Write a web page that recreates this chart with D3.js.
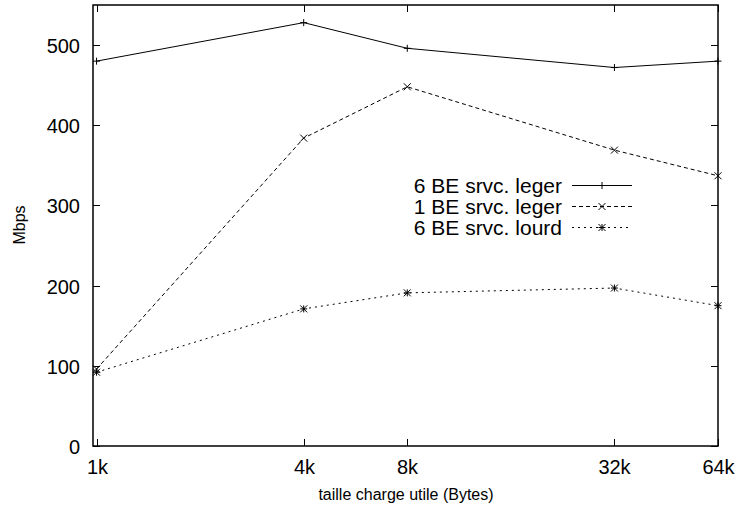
<!DOCTYPE html>
<html><head><meta charset="utf-8">
<script src="https://cdn.jsdelivr.net/npm/d3@7"></script>
<style>body{margin:0;background:#fff}text{font-family:"Liberation Sans",Arial,sans-serif;fill:#000}</style>
</head><body><svg id="c" width="736" height="511"></svg>
<script>
const sizes = [1024, 4096, 8192, 32768, 65536];
const tickLabels = ["1k", "4k", "8k", "32k", "64k"];
const yTicks = [0, 100, 200, 300, 400, 500];
const seriesNames = ["6 BE srvc. leger", "1 BE srvc. leger", "6 BE srvc. lourd"];
const s1 = [480, 528, 496, 472, 480];
const s2 = [96, 384, 448, 369, 337];
const s3 = [92, 171, 191, 197, 175];

const svg = d3.select("#c");
const L = 93, R = 718, T = 5, B = 446;
const FS = 20;
const x = d3.scaleLog().domain([1000, 65536]).range([L, R]);
const y = d3.scaleLinear().domain([0, 550]).range([B, T]);

const series = [
  {name: seriesNames[0], vals: s1, dash: null, mark: "plus"},
  {name: seriesNames[1], vals: s2, dash: "4,3", mark: "cross"},
  {name: seriesNames[2], vals: s3, dash: "2,4", mark: "star"}
];

// ticks (inward, mirrored)
const tl = 7;
const g = svg.append("g").attr("stroke", "#000").attr("stroke-width", 1);
yTicks.forEach(v => {
  const yy = Math.round(y(v)) + 0.5;
  g.append("line").attr("x1", L).attr("x2", L + tl).attr("y1", yy).attr("y2", yy);
  g.append("line").attr("x1", R).attr("x2", R - tl).attr("y1", yy).attr("y2", yy);
  svg.append("text").attr("x", 80).attr("y", yy + 7.5).attr("text-anchor", "end").attr("font-size", FS).text(v);
});
sizes.forEach((v, i) => {
  const xx = Math.round(x(v)) + 0.5;
  g.append("line").attr("x1", xx).attr("x2", xx).attr("y1", B).attr("y2", B - tl);
  g.append("line").attr("x1", xx).attr("x2", xx).attr("y1", T).attr("y2", T + tl);
  svg.append("text").attr("x", xx).attr("y", 474).attr("text-anchor", "middle").attr("font-size", FS).text(tickLabels[i]);
});

// frame
svg.append("rect").attr("x", L).attr("y", T).attr("width", R - L).attr("height", B - T)
  .attr("fill", "none").attr("stroke", "#000").attr("stroke-width", 1.5);

function marker(sel, type, cx, cy) {
  const s = 3.5;
  const m = sel.append("g").attr("stroke", "#000").attr("stroke-width", 1).attr("fill", "none");
  if (type === "plus" || type === "star") {
    m.append("line").attr("x1", cx - s).attr("x2", cx + s).attr("y1", cy).attr("y2", cy);
    m.append("line").attr("x1", cx).attr("x2", cx).attr("y1", cy - s).attr("y2", cy + s);
  }
  if (type === "cross" || type === "star") {
    m.append("line").attr("x1", cx - s).attr("x2", cx + s).attr("y1", cy - s).attr("y2", cy + s);
    m.append("line").attr("x1", cx - s).attr("x2", cx + s).attr("y1", cy + s).attr("y2", cy - s);
  }
}

const line = d3.line().x((d, i) => x(sizes[i])).y(d => y(d));
series.forEach(s => {
  svg.append("path").datum(s.vals).attr("d", line).attr("fill", "none").attr("stroke", "#000")
    .attr("stroke-width", 1).attr("stroke-dasharray", s.dash);
  s.vals.forEach((v, i) => marker(svg, s.mark, x(sizes[i]), y(v)));
});

// legend
series.forEach((s, i) => {
  const ly = 185.5 + i * 21;
  svg.append("text").attr("x", 562).attr("y", ly + 7.5).attr("text-anchor", "end").attr("font-size", 21).text(s.name);
  svg.append("line").attr("x1", 572).attr("x2", 632).attr("y1", ly).attr("y2", ly)
    .attr("stroke", "#000").attr("stroke-width", 1).attr("stroke-dasharray", s.dash);
  marker(svg, s.mark, 602, ly);
});

// axis titles
svg.append("text").attr("transform", "translate(25,225) rotate(-90)").attr("text-anchor", "middle").attr("font-size", 16).text("Mbps");
svg.append("text").attr("x", 406).attr("y", 500).attr("text-anchor", "middle").attr("font-size", 16).text("taille charge utile (Bytes)");
</script></body></html>
